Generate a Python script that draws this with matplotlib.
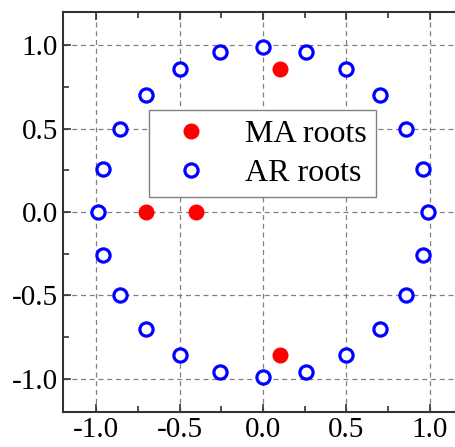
import matplotlib
matplotlib.use("Agg")
import matplotlib.pyplot as plt
from matplotlib.ticker import MultipleLocator

# MA roots (real, imag)
ma_re = [0.10, 0.10, -0.70, -0.40]
ma_im = [0.86, -0.86, 0.0, 0.0]

ar_re = [0.99, 0.96, 0.86, 0.70, 0.50, 0.26, 0.00, -0.26, -0.50, -0.70, -0.86, -0.96,
         -0.99, -0.96, -0.86, -0.70, -0.50, -0.26, 0.00, 0.26, 0.50, 0.70, 0.86, 0.96]
ar_im = [0.00, 0.26, 0.50, 0.70, 0.86, 0.96, 0.99, 0.96, 0.86, 0.70, 0.50, 0.26,
         0.00, -0.26, -0.50, -0.70, -0.86, -0.96, -0.99, -0.96, -0.86, -0.70, -0.50, -0.26]

plt.rcParams["font.family"] = ["Liberation Serif", "DejaVu Serif"]

fig = plt.figure(figsize=(4.55, 4.47), dpi=100)
ax = fig.add_axes([63 / 455, 35 / 447, 400 / 455, 400 / 447])

ax.plot(ma_re, ma_im, "o", color="red", markersize=10.5, linestyle="None",
        label="MA roots", zorder=3)
ax.plot(ar_re, ar_im, "o", markerfacecolor="white", markeredgecolor="blue",
        markeredgewidth=2.3, markersize=9.5, linestyle="None", label="AR roots", zorder=3)

ax.set_xlim(-1.2, 1.2)
ax.set_ylim(-1.2, 1.2)
ax.xaxis.set_major_locator(MultipleLocator(0.5))
ax.yaxis.set_major_locator(MultipleLocator(0.5))
ax.xaxis.set_minor_locator(MultipleLocator(0.25))
ax.yaxis.set_minor_locator(MultipleLocator(0.25))
ax.xaxis.set_major_formatter(plt.FormatStrFormatter("%.1f"))
ax.yaxis.set_major_formatter(plt.FormatStrFormatter("%.1f"))

ax.grid(True, which="major", color="gray", linestyle=(0, (4, 3)), linewidth=0.9)
ax.tick_params(which="both", direction="in", top=True, right=True,
               labelsize=21, color="#333333", width=1.2)
ax.tick_params(which="major", length=6)
ax.tick_params(which="minor", length=4)
for sp in ax.spines.values():
    sp.set_color("#333333")
    sp.set_linewidth(1.5)

ax.legend(loc="upper left", bbox_to_anchor=(0.215, 0.755), fontsize=23,
          frameon=True, fancybox=False, edgecolor="gray", framealpha=1,
          borderaxespad=0, handletextpad=0.7, borderpad=0.3, labelspacing=0.3,
          numpoints=1)

fig.savefig("out.png", dpi=100)
